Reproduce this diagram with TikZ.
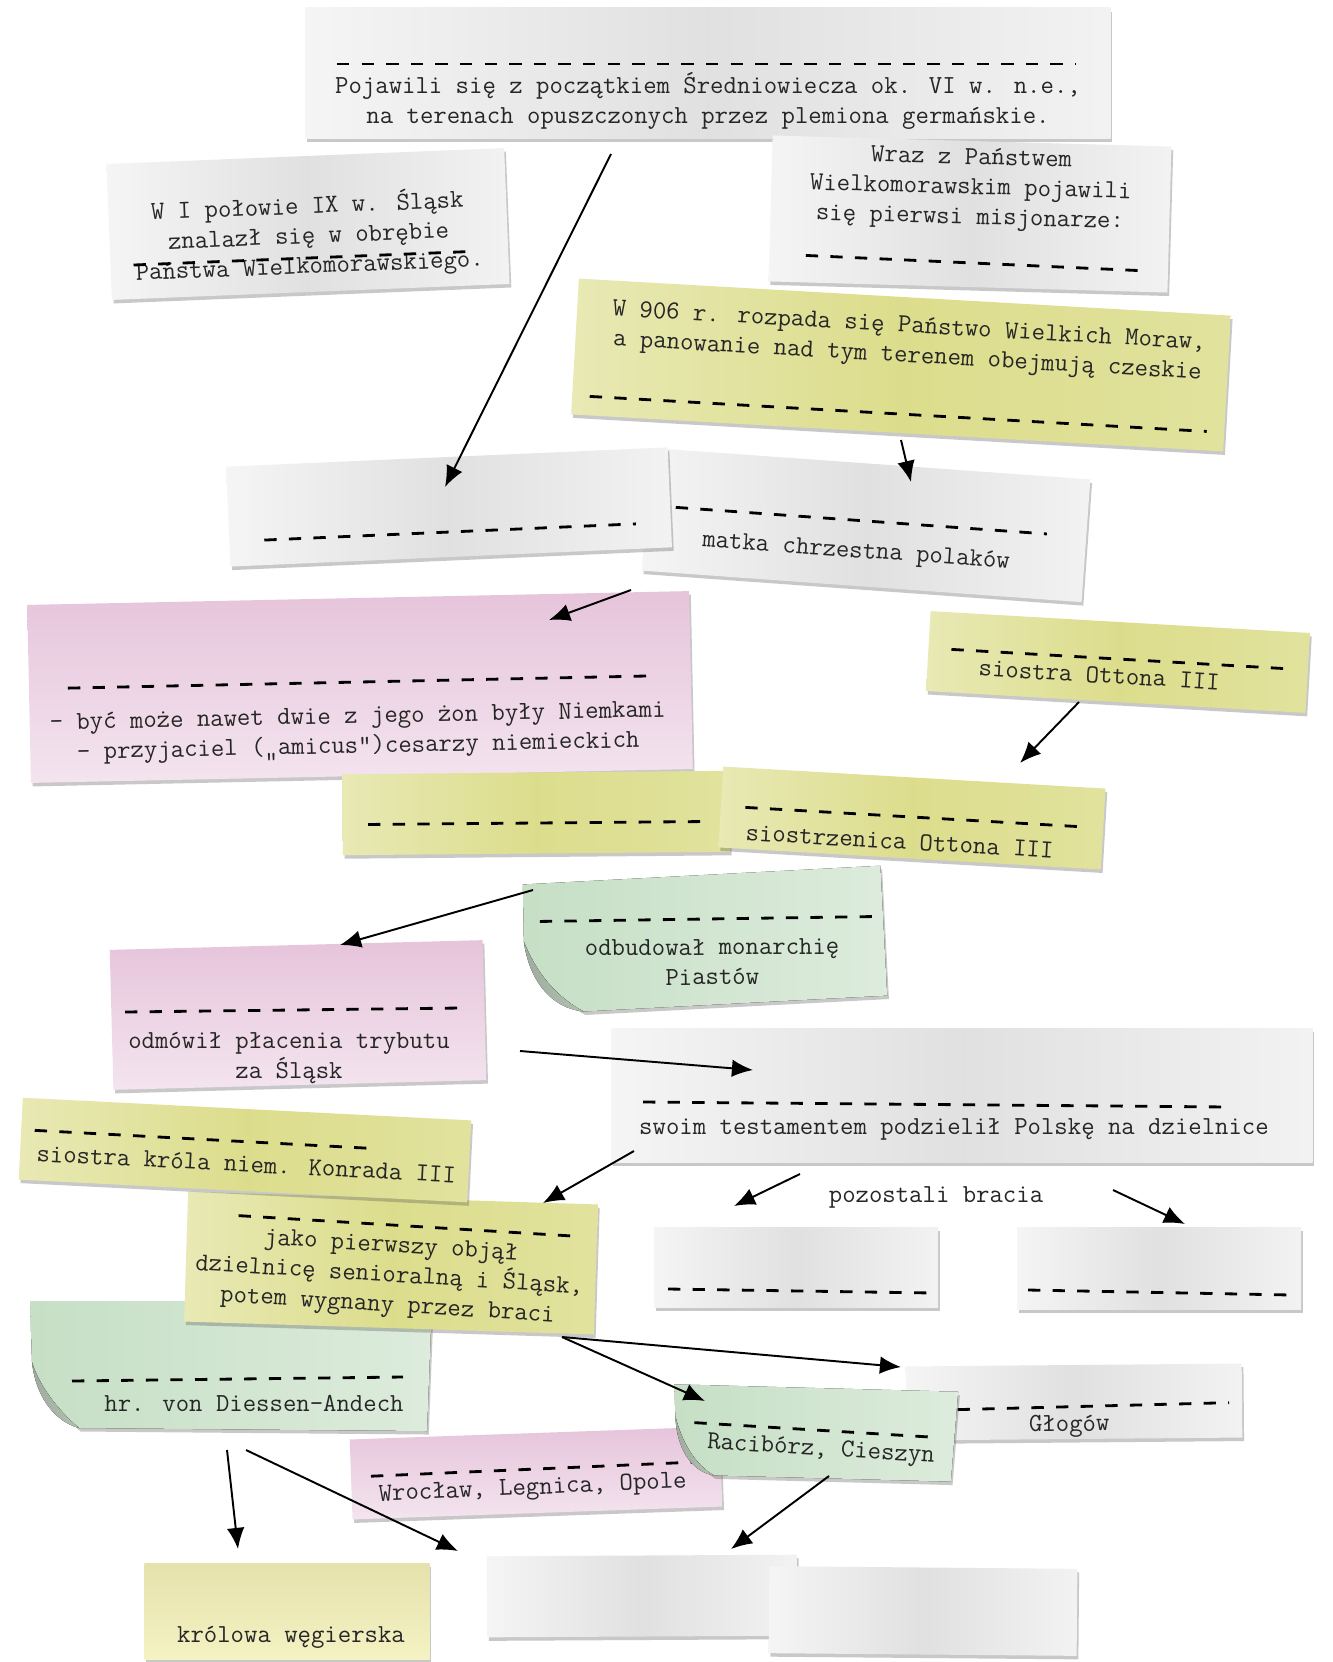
\documentclass[tikz,border=0pt]{standalone}
\usepackage{fontspec}
\usetikzlibrary{arrows.meta,shadows}
\definecolor{notegrey}{RGB}{226,226,226}
\definecolor{notepink}{RGB}{230,196,219}
\definecolor{noteyellow}{RGB}{220,221,140}
\definecolor{notegreen}{RGB}{198,223,197}
\definecolor{notecream}{RGB}{243,240,184}
\tikzset{
    paper/.style={inner sep=0pt, drop shadow={opacity=0.3, fill=black!70, shadow xshift=1pt, shadow yshift=-2pt}},
    wh/.style 2 args={minimum width=#1*0.2mm, minimum height=#2*0.2mm},
    grey note/.style={paper, left color=black!4, right color=black!5, middle color=black!12},
    yellow note/.style={paper, left color=noteyellow!65!white, right color=noteyellow!85!white, middle color=noteyellow},
    pink note/.style={paper, top color=notepink, bottom color=notepink!45!white},
    green note/.style={paper, left color=notegreen, right color=notegreen!60!white},
    cream note/.style={paper, top color=notecream!94!black, bottom color=notecream!85!white},
    curl/.style={left color=notegreen!45!gray, right color=notegreen!70!gray},
    blank/.style={line width=1.6pt, dash pattern=on 7pt off 7pt},
    txt/.style={font={\fontsize{14.8}{17}\selectfont\ttfamily}, text=black!85, align=center, inner sep=0pt},
    link/.style={line width=1.1pt, -{Latex[length=12pt,width=10pt]}}
}
\begin{document}
\begin{tikzpicture}[x=0.2mm,y=-0.2mm]
    \useasboundingbox (0,0) rectangle (1332,1662);
    \fill[white] (0,0) rectangle (1332,1662);

    \begin{scope}[shift={(708,73)},transform shape]
        \node[grey note, wh={805}{130}] (n-pojawili) {};
        \draw[blank] (-371,-9) -- (368,-9);
        \node[txt] (t-pojawili) at (0,28) {Pojawili się z początkiem Średniowiecza ok. VI w. n.e.,\\na terenach opuszczonych przez plemiona germańskie.};
    \end{scope}

    \begin{scope}[shift={(308,224)},rotate=2.3,transform shape]
        \node[grey note, wh={398}{136}] (n-polowa) {};
        \node[txt] (t-polowa) at (0,12) {W I połowie IX w. Śląsk\\znalazł się w obrębie\\Państwa Wielkomorawskiego.};
        \draw[blank] (-176,34) -- (164,34);
    \end{scope}

    \begin{scope}[shift={(901,365)},rotate=-3.25,transform shape]
        \node[yellow note, wh={653}{136}] (n-rozpad) {};
        \node[txt] (t-rozpad) at (6,-23) {W 906 r. rozpada się Państwo Wielkich Moraw,\\a panowanie nad tym terenem obejmują czeskie};
        \draw[blank] (-309,49) -- (309,49);
    \end{scope}

    \begin{scope}[shift={(970,214)},rotate=-1.6,transform shape]
        \node[grey note, wh={399}{146}] (n-wraz) {};
        \node[txt] (t-wraz) at (0,-25) {Wraz z Państwem\\Wielkomorawskim pojawili\\się pierwsi misjonarze:};
        \draw[blank] (-163,46) -- (180,52);
    \end{scope}

    \begin{scope}[shift={(866,525)},rotate=-4.1,transform shape]
        \node[grey note, wh={441}{123}] (n-matka) {};
        \draw[blank] (-191,-4) -- (181,-4);
        \node[txt] (t-matka) at (-8,28) {matka chrzestna polaków};
    \end{scope}

    \begin{scope}[shift={(449,507)},rotate=2.5,transform shape]
        \node[grey note, wh={442}{100}] (n-pusta1) {};
        \draw[blank] (-186,25) -- (186,25);
    \end{scope}

    \begin{scope}[shift={(360,687)},rotate=1.2,transform shape]
        \node[pink note, wh={662}{178}] (n-zony) {};
        \draw[blank] (-292,-5) -- (298,-5);
        \node[txt] (t-zony) at (-3,46) {- być może nawet dwie z jego żon były Niemkami\\- przyjaciel („amicus”)cesarzy niemieckich};
    \end{scope}

    \begin{scope}[shift={(1118,662)},rotate=-3.3,transform shape]
        \node[yellow note, wh={380}{80}] (n-siostra) {};
        \node[txt] (t-siostra) at (-18,14) {siostra Ottona III};
        \draw[blank] (-167,-3) -- (167,-3);
    \end{scope}

    \begin{scope}[shift={(536,813)},rotate=0.5,transform shape]
        \node[yellow note, wh={387}{81}] (n-pusta2) {};
        \draw[blank] (-168,10) -- (168,10);
    \end{scope}

    \begin{scope}[shift={(912,818)},rotate=-3.3,transform shape]
        \node[yellow note, wh={383}{81}] (n-siostrzenica) {};
        \draw[blank] (-167,-1) -- (167,-1);
        \node[txt] (t-siostrzenica) at (-11,24) {siostrzenica Ottona III};
    \end{scope}

    \begin{scope}[shift={(705,940)},rotate=3,transform shape]
        \node[wh={358}{130}] (n-odbudowal) {};
        \fill[green note] (-179,-65) -- (179,-65) -- (179,65) -- (-125,65) .. controls (-150,50) and (-170,25) .. (-181,-8) -- cycle;
        \fill[curl] (-181,-8) .. controls (-170,25) and (-150,50) .. (-125,65) .. controls (-158,60) and (-178,30) .. (-181,-8) -- cycle;
        \begin{scope}[rotate=-2.5]
            \draw[blank] (-165,-20) -- (170,-22);
            \node[txt] (t-odbudowal) at (7,22) {odbudował monarchię\\Piastów};
        \end{scope}
    \end{scope}

    \begin{scope}[shift={(298,1015)},rotate=1.5,transform shape]
        \node[pink note, wh={373}{140}] (n-odmowil) {};
        \begin{scope}[rotate=-1.5]
            \draw[blank] (-173,-3) -- (163,-7);
            \node[txt] (t-odmowil) at (-9,43) {odmówił płacenia trybutu\\za Śląsk};
        \end{scope}
    \end{scope}

    \begin{scope}[shift={(962,1095)},transform shape]
        \node[grey note, wh={701}{134}] (n-testament) {};
        \draw[blank] (-319,7) -- (267,12);
        \node[txt] (t-testament) at (-8,34) {swoim testamentem podzielił Polskę na dzielnice};
    \end{scope}

    \begin{scope}[shift={(231,1366)},transform shape]
        \node[wh={402}{130}] (n-diessen) {};
        \fill[green note] (-201,-65) -- (201,-65) -- (196,65) -- (-152,62) .. controls (-172,45) and (-192,20) .. (-199,-4) -- cycle;
        \fill[curl] (-199,-4) .. controls (-192,20) and (-172,45) .. (-152,62) .. controls (-178,55) and (-196,28) .. (-199,-4) -- cycle;
        \draw[blank] (-159,15) -- (172,11);
        \node[txt] (t-diessen) at (23,37) {hr. von Diessen-Andech};
    \end{scope}

    \begin{scope}[shift={(391,1263)},rotate=-1.8,transform shape]
        \node[yellow note, wh={410}{130}] (n-senior) {};
        \begin{scope}[rotate=-1.7]
            \draw[blank] (-155,-38) -- (186,-38);
            \node[txt] (t-senior) at (-1,14) {jako pierwszy objął\\dzielnicę senioralną i Śląsk,\\potem wygnany przez braci};
        \end{scope}
    \end{scope}

    \begin{scope}[shift={(245,1150)},rotate=-2.9,transform shape]
        \node[yellow note, wh={449}{82}] (n-konrad) {};
        \draw[blank] (-211,-9) -- (124,-8);
        \node[txt] (t-konrad) at (2,14) {siostra króla niem. Konrada III};
    \end{scope}

    \node[txt] (t-bracia) at (936,1197) {pozostali bracia};

    \begin{scope}[shift={(796,1267)},transform shape]
        \node[grey note, wh={284}{80}] (n-brat1) {};
        \draw[blank] (-128,22) -- (137,26);
    \end{scope}
    \begin{scope}[shift={(1159,1268)},transform shape]
        \node[grey note, wh={284}{82}] (n-brat2) {};
        \draw[blank] (-131,22) -- (132,27);
    \end{scope}

    \begin{scope}[shift={(1074,1402)},rotate=0.5,transform shape]
        \node[grey note, wh={336}{74}] (n-glogow) {};
        \draw[blank] (-141,7) -- (155,2);
        \node[txt] (t-glogow) at (-5,24) {Głogów};
    \end{scope}

    \begin{scope}[shift={(536,1473)},rotate=2,transform shape]
        \node[pink note, wh={370}{80}] (n-wroclaw) {};
        \begin{scope}[rotate=0.5]
            \draw[blank] (-165,-4) -- (159,-4);
            \node[txt] (t-wroclaw) at (-4,16) {Wrocław, Legnica, Opole};
        \end{scope}
    \end{scope}

    \begin{scope}[shift={(815,1433)},rotate=-1.5,transform shape]
        \node[wh={284}{90}] (n-raciborz) {};
        \fill[green note] (-142,-45) -- (142,-45) -- (137,45) -- (-100,45) .. controls (-118,35) and (-132,15) .. (-140,-13) -- cycle;
        \fill[curl] (-140,-13) .. controls (-132,15) and (-118,35) .. (-100,45) .. controls (-122,42) and (-138,20) .. (-140,-13) -- cycle;
        \begin{scope}[rotate=-2]
            \draw[blank] (-121,-3) -- (121,-3);
            \node[txt] (t-raciborz) at (7,17) {Racibórz, Cieszyn};
        \end{scope}
    \end{scope}

    \begin{scope}[shift={(287,1611)},transform shape]
        \node[cream note, wh={285}{96}] (n-krolowa) {};
        \node[txt] (t-krolowa) at (4,26) {królowa węgierska};
    \end{scope}

    \begin{scope}[shift={(642,1596)},rotate=0.3,transform shape]
        \node[grey note, wh={310}{81}] (n-pusta3) {};
    \end{scope}
    \begin{scope}[shift={(923,1611)},rotate=-0.5,transform shape]
        \node[grey note, wh={308}{87}] (n-pusta4) {};
    \end{scope}

    \coordinate (s1) at (611,154);   \coordinate (e1) at (445,487);
    \coordinate (s2) at (901,440);   \coordinate (e2) at (911,482);
    \coordinate (s3) at (631,590);   \coordinate (e3) at (549,620);
    \coordinate (s4) at (1079,702);  \coordinate (e4) at (1020,763);
    \coordinate (s5) at (533,890);   \coordinate (e5) at (340,945);
    \coordinate (s6) at (520,1051);  \coordinate (e6) at (753,1070);
    \coordinate (s7) at (634,1151);  \coordinate (e7) at (543,1203);
    \coordinate (s8) at (800,1174);  \coordinate (e8) at (734,1206);
    \coordinate (s9) at (1113,1190); \coordinate (e9) at (1185,1224);
    \coordinate (s10) at (562,1337); \coordinate (e10) at (901,1367);
    \coordinate (s11) at (562,1337); \coordinate (e11) at (705,1401);
    \coordinate (s12) at (227,1450); \coordinate (e12) at (238,1549);
    \coordinate (s13) at (246,1450); \coordinate (e13) at (458,1551);
    \coordinate (s14) at (829,1476); \coordinate (e14) at (731,1549);
    \foreach \i in {1,...,14} {
        \draw[link] (s\i) -- (e\i);
    }
\end{tikzpicture}
\end{document}
